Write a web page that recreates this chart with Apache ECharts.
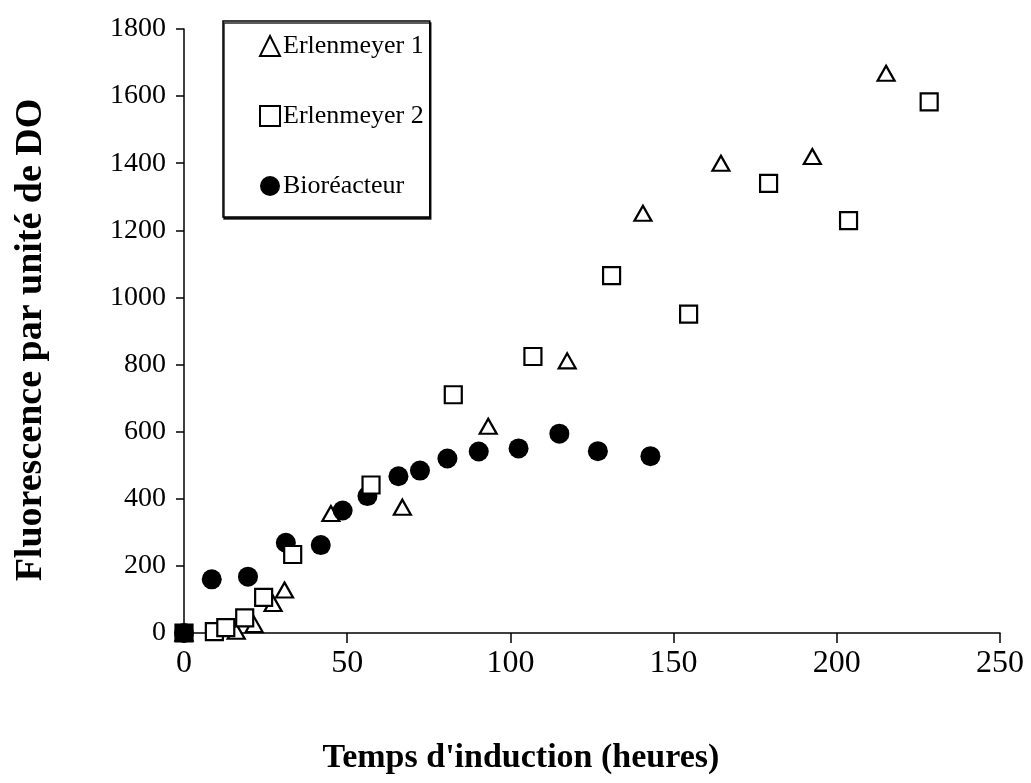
<!DOCTYPE html>
<html>
<head>
<meta charset="utf-8">
<script src="https://cdn.jsdelivr.net/npm/echarts@6/dist/echarts.min.js"></script>
<style>
  html, body { margin: 0; padding: 0; background: #fff; }
  #chart { width: 1031px; height: 783px; }
</style>
</head>
<body>
<div id="chart"></div>
<script>
// Induction time (hours) vs. fluorescence per OD unit
const xTicks = [0, 50, 100, 150, 200, 250];
const yTicks = [0, 200, 400, 600, 800, 1000, 1200, 1400, 1600, 1800];

const erlen1 = [
  [0, 0], [16, 5], [21.5, 25], [27.3, 88], [30.8, 128], [45, 356],
  [66.9, 375], [93.2, 616], [117.4, 811], [140.6, 1251], [164.5, 1400],
  [192.5, 1420], [215.1, 1668]
];
const erlen2 = [
  [0, 0], [9.3, 4], [12.8, 16], [18.6, 45], [24.4, 106], [33.3, 234],
  [57.3, 441], [82.5, 710], [106.9, 824], [131, 1065], [154.6, 950],
  [179.1, 1340], [203.6, 1229], [228.3, 1583]
];
const bioreacteur = [
  [0, 0], [8.5, 160], [19.6, 168], [31.2, 269], [41.9, 262], [48.6, 365],
  [56.2, 408], [65.7, 467], [72.3, 484], [80.7, 520], [90.3, 541],
  [102.5, 550], [115, 594], [126.8, 542], [142.9, 527]
];
const seriesNames = ['Erlenmeyer 1', 'Erlenmeyer 2', 'Bioréacteur'];

const serif = '"Liberation Serif", "DejaVu Serif", serif';
const chart = echarts.init(document.getElementById('chart'), null, { renderer: 'canvas' });

// the overlapping start points at the origin show as one solid square
const erlen2Data = erlen2.map(p =>
  (p[0] === 0 && p[1] === 0) ? { value: p, itemStyle: { color: '#000' } } : p);

chart.setOption({
  backgroundColor: '#ffffff',
  animation: false,
  textStyle: { fontFamily: serif, color: '#000' },
  grid: { left: 184, right: 31, top: 29, bottom: 150 },
  legend: {
    orient: 'vertical',
    left: 223,
    top: 21,
    data: seriesNames,
    backgroundColor: '#ffffff',
    borderColor: '#000',
    borderWidth: 1.5,
    borderRadius: 0,
    shadowColor: 'rgba(0,0,0,0.85)',
    shadowBlur: 0,
    shadowOffsetX: 1,
    shadowOffsetY: 2,
    padding: [10, 6, 16, 36],
    itemGap: 40,
    itemWidth: 20,
    itemHeight: 20,
    textStyle: { fontFamily: serif, fontSize: 26, color: '#000', lineHeight: 30, padding: [0, 0, 0, -2] }
  },
  xAxis: {
    type: 'value',
    min: xTicks[0],
    max: xTicks[xTicks.length - 1],
    interval: xTicks[1] - xTicks[0],
    name: "Temps d'induction (heures)",
    nameLocation: 'middle',
    nameGap: 108,
    nameTextStyle: { fontFamily: serif, fontSize: 34, fontWeight: 'bold', color: '#000', padding: [0, 142, 0, 0] },
    axisLine: { show: true, onZero: false, lineStyle: { color: '#000', width: 1.5 } },
    axisTick: { show: true, inside: false, length: 10, lineStyle: { color: '#000', width: 1.5 } },
    axisLabel: { fontFamily: serif, fontSize: 32, color: '#000', margin: 15 },
    splitLine: { show: false }
  },
  yAxis: {
    type: 'value',
    min: yTicks[0],
    max: yTicks[yTicks.length - 1],
    interval: yTicks[1] - yTicks[0],
    name: 'Fluorescence par unité de DO',
    nameLocation: 'middle',
    nameGap: 134,
    nameTextStyle: { fontFamily: serif, fontSize: 38, fontWeight: 'bold', color: '#000', padding: [0, 18, 0, 0] },
    axisLine: { show: true, onZero: false, lineStyle: { color: '#000', width: 1.5 } },
    axisTick: { show: true, inside: false, length: 8, lineStyle: { color: '#000', width: 1.5 } },
    axisLabel: { fontFamily: serif, fontSize: 28, color: '#000', margin: 18, formatter: v => String(v) },
    splitLine: { show: false }
  },
  series: [
    {
      name: seriesNames[0],
      type: 'scatter',
      data: erlen1,
      symbol: 'triangle',
      symbolSize: [17, 15],
      itemStyle: { color: '#ffffff', borderColor: '#000', borderWidth: 2.2, opacity: 1 },
      z: 3
    },
    {
      name: seriesNames[1],
      type: 'scatter',
      data: erlen2Data,
      symbol: 'rect',
      symbolSize: 17,
      itemStyle: { color: '#ffffff', borderColor: '#000', borderWidth: 2.2, opacity: 1 },
      z: 5
    },
    {
      name: seriesNames[2],
      type: 'scatter',
      data: bioreacteur,
      symbol: 'circle',
      symbolSize: 20,
      itemStyle: { color: '#000', borderColor: '#000', borderWidth: 0, opacity: 1 },
      z: 4
    }
  ]
});
</script>
</body>
</html>
